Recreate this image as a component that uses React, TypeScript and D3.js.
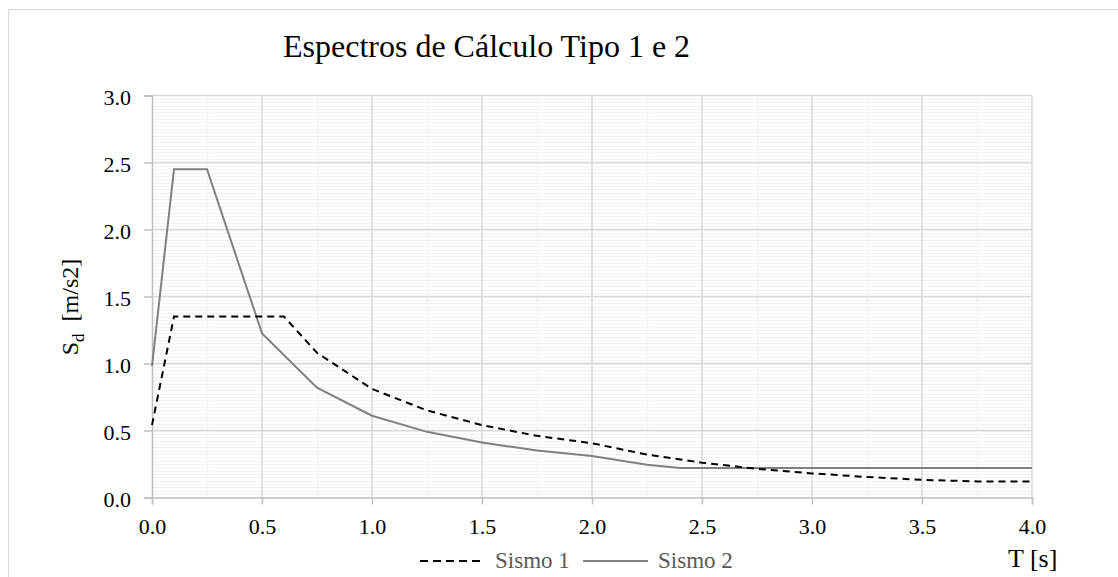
import * as React from "react";
import * as d3 from "d3";

const sismo1T = [0, 0.1, 0.6, 0.75, 1.0, 1.25, 1.5, 1.75, 2.0, 2.25, 2.5, 2.75, 3.0, 3.25, 3.5, 3.75, 4.0];
const sismo1Sd = [0.54, 1.35, 1.35, 1.08, 0.81, 0.65, 0.54, 0.46, 0.405, 0.32, 0.26, 0.214, 0.18, 0.153, 0.132, 0.12, 0.12];

const sismo2T = [0, 0.1, 0.25, 0.5, 0.75, 1.0, 1.25, 1.5, 1.75, 2.0, 2.25, 2.4, 2.5, 2.75, 3.0, 3.25, 3.5, 3.75, 4.0];
const sismo2Sd = [0.98, 2.45, 2.45, 1.225, 0.82, 0.61, 0.49, 0.41, 0.35, 0.31, 0.245, 0.22, 0.22, 0.22, 0.22, 0.22, 0.22, 0.22, 0.22];

const xTicks = [0, 0.5, 1.0, 1.5, 2.0, 2.5, 3.0, 3.5, 4.0];
const yTicks = [0, 0.5, 1.0, 1.5, 2.0, 2.5, 3.0];
const seriesNames = ["Sismo 1", "Sismo 2"];

const W = 1118;
const H = 577;
const font = "'Liberation Serif', 'Times New Roman', serif";

function drawChart(svgEl: SVGSVGElement) {
  const svg = d3.select(svgEl);
  svg.selectAll("*").remove();

  const x = d3.scaleLinear().domain([0, 4]).range([152, 1032]);
  const y = d3.scaleLinear().domain([0, 3]).range([497.5, 95.5]);

  // chart frame
  svg.append("rect")
    .attr("x", 8.5).attr("y", 9.5)
    .attr("width", 1300).attr("height", 800)
    .attr("fill", "#fff").attr("stroke", "#d9d9d9");

  const grid = svg.append("g");
  // minor horizontal
  grid.selectAll(".hm")
    .data(d3.range(1, 120).map((i) => i * 0.025))
    .enter().append("line")
    .attr("x1", x(0)).attr("x2", x(4))
    .attr("y1", (d) => Math.round(y(d)) + 0.5).attr("y2", (d) => Math.round(y(d)) + 0.5)
    .attr("stroke", "#f2f2f2");
  // minor vertical
  grid.selectAll(".vm")
    .data(d3.range(0, 8).map((i) => i * 0.5 + 0.25))
    .enter().append("line")
    .attr("x1", (d) => Math.round(x(d)) + 0.5).attr("x2", (d) => Math.round(x(d)) + 0.5)
    .attr("y1", y(0)).attr("y2", y(3))
    .attr("stroke", "#f2f2f2").attr("stroke-width", 1.5);
  // major
  grid.selectAll(".hM")
    .data(yTicks.slice(1))
    .enter().append("line")
    .attr("x1", x(0)).attr("x2", x(4))
    .attr("y1", (d) => y(d)).attr("y2", (d) => y(d))
    .attr("stroke", "#d9d9d9").attr("stroke-width", 1.5);
  grid.selectAll(".vM")
    .data(xTicks.slice(1))
    .enter().append("line")
    .attr("x1", (d) => x(d)).attr("x2", (d) => x(d))
    .attr("y1", y(0)).attr("y2", y(3))
    .attr("stroke", "#d9d9d9").attr("stroke-width", 1.5);

  // axes
  const xAxis = svg.append("g")
    .attr("transform", `translate(0,${y(0)})`)
    .call(d3.axisBottom(x).tickValues(xTicks).tickFormat(d3.format(".1f")).tickSize(7).tickPadding(14));
  const yAxis = svg.append("g")
    .attr("transform", `translate(${x(0)},0)`)
    .call(d3.axisLeft(y).tickValues(yTicks).tickFormat(d3.format(".1f")).tickSize(8).tickPadding(13));
  [xAxis, yAxis].forEach((a) => {
    a.select(".domain").attr("stroke", "#bfbfbf").attr("stroke-width", 1.5);
    a.selectAll(".tick line").attr("stroke", "#bfbfbf").attr("stroke-width", 1.5);
    a.selectAll(".tick text")
      .attr("fill", "#000")
      .style("font-family", font)
      .style("font-size", "22px");
  });
  yAxis.selectAll(".tick text").attr("dy", "0.4em");

  // lines
  const line = d3.line<[number, number]>()
    .x((d) => x(d[0]))
    .y((d) => y(d[1]));

  const s1 = sismo1T.map((t, i) => [t, sismo1Sd[i]] as [number, number]);
  const s2 = sismo2T.map((t, i) => [t, sismo2Sd[i]] as [number, number]);

  svg.append("path")
    .attr("d", line(s2))
    .attr("fill", "none")
    .attr("stroke", "#808080")
    .attr("stroke-width", 2);
  svg.append("path")
    .attr("d", line(s1))
    .attr("fill", "none")
    .attr("stroke", "#000")
    .attr("stroke-width", 2)
    .attr("stroke-dasharray", "7,5");

  // title
  svg.append("text")
    .attr("x", 283).attr("y", 57)
    .style("font-family", font)
    .style("font-size", "32px")
    .attr("fill", "#000")
    .text("Espectros de Cálculo Tipo 1 e 2");

  // y axis title
  const yt = svg.append("text")
    .attr("transform", "translate(78,307) rotate(-90)")
    .attr("text-anchor", "middle")
    .style("font-family", font)
    .style("font-size", "24px")
    .attr("fill", "#000");
  yt.append("tspan").text("S");
  yt.append("tspan").attr("dy", 6).style("font-size", "17px").text("d");
  yt.append("tspan").attr("dy", -6).attr("xml:space", "preserve").text("\u00a0\u00a0[m/s2]");

  // x axis title
  svg.append("text")
    .attr("x", 1008).attr("y", 567)
    .style("font-family", font)
    .style("font-size", "26px")
    .attr("fill", "#000")
    .text("T [s]");

  // legend
  const legend = svg.append("g");
  legend.append("line")
    .attr("x1", 420).attr("x2", 482).attr("y1", 561).attr("y2", 561)
    .attr("stroke", "#000").attr("stroke-width", 2).attr("stroke-dasharray", "8,5");
  legend.append("text")
    .attr("x", 495).attr("y", 568)
    .style("font-family", font).style("font-size", "23px")
    .attr("fill", "#595959").text(seriesNames[0]);
  legend.append("line")
    .attr("x1", 583).attr("x2", 648).attr("y1", 561).attr("y2", 561)
    .attr("stroke", "#808080").attr("stroke-width", 2);
  legend.append("text")
    .attr("x", 658).attr("y", 568)
    .style("font-family", font).style("font-size", "23px")
    .attr("fill", "#595959").text(seriesNames[1]);
}

const App: React.FunctionComponent = () => {
  const ref = React.useRef<SVGSVGElement>(null);
  React.useEffect(() => {
    if (ref.current) drawChart(ref.current);
  }, []);
  return (
    <svg
      ref={ref}
      width={W}
      height={H}
      style={{ position: "absolute", left: 0, top: 0, display: "block", background: "#fff" }}
    />
  );
};

export default App;
